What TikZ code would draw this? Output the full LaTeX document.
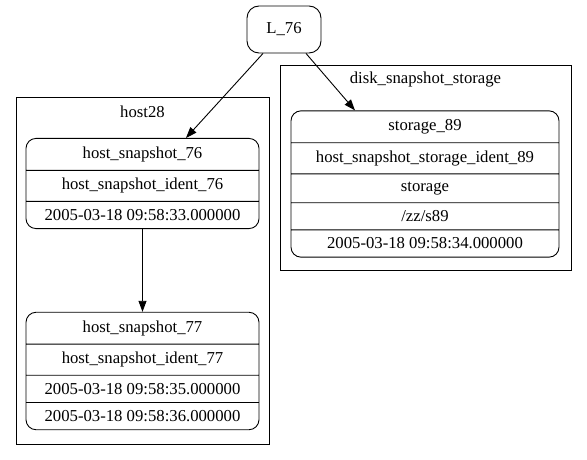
\documentclass[tikz,border=0pt]{standalone}
\usepackage{fontspec}
\setmainfont{Liberation Serif}
\usetikzlibrary{positioning, arrows.meta, shapes.multipart}

\begin{document}
\begin{tikzpicture}[x=1pt, y=-1pt, every node/.style={font=\fontsize{16.7}{19}\selectfont},
        record/.style={draw, rectangle split, rounded corners=10pt, minimum width=233pt, text height=12pt, text depth=4pt, inner ysep=7.5pt, line width=0.9pt},
        cluster/.style={draw, line width=0.9pt, inner sep=0pt},
        arr/.style={-{Triangle[length=11pt, width=8pt]}, line width=0.9pt}]
      \useasboundingbox (0,0) rectangle (587,460);
      % clusters
      \node[cluster, minimum width=253pt, minimum height=347pt] (host28) at (142.5,270.5) {};
      \node at (142.5,112) (host28lbl) {host28};
      \node[cluster, minimum width=291pt, minimum height=205pt] (disk) at (425.5,167.5) {};
      \node at (425.5,80) (disklbl) {disk\_snapshot\_storage};

      \node[draw, rounded corners=12pt, minimum width=74pt, minimum height=47pt, line width=0.9pt] (L76) at (284,29.5) {L\_76};

      \node[record, rectangle split parts=3] (hs76) at (142.5,183.5)
        {host\_snapshot\_76 \nodepart{two} host\_snapshot\_ident\_76 \nodepart{three} 2005-03-18 09:58:33.000000};
      \node[record, rectangle split parts=4] (hs77) at (142.5,371)
        {host\_snapshot\_77 \nodepart{two} host\_snapshot\_ident\_77 \nodepart{three} 2005-03-18 09:58:35.000000 \nodepart{four} 2005-03-18 09:58:36.000000};
      \node[record, rectangle split parts=5, minimum width=268pt] (st89) at (425,184)
        {storage\_89 \nodepart{two} host\_snapshot\_storage\_ident\_89 \nodepart{three} storage \nodepart{four} /zz/s89 \nodepart{five} 2005-03-18 09:58:34.000000};

      \draw[arr] ([xshift=-21pt]L76.south) -- ([xshift=43.5pt]hs76.north);
      \draw[arr] ([xshift=22pt]L76.south) -- ([xshift=-70pt]st89.north);
      \draw[arr] (hs76) -- (hs77);
    \end{tikzpicture}
\end{document}
